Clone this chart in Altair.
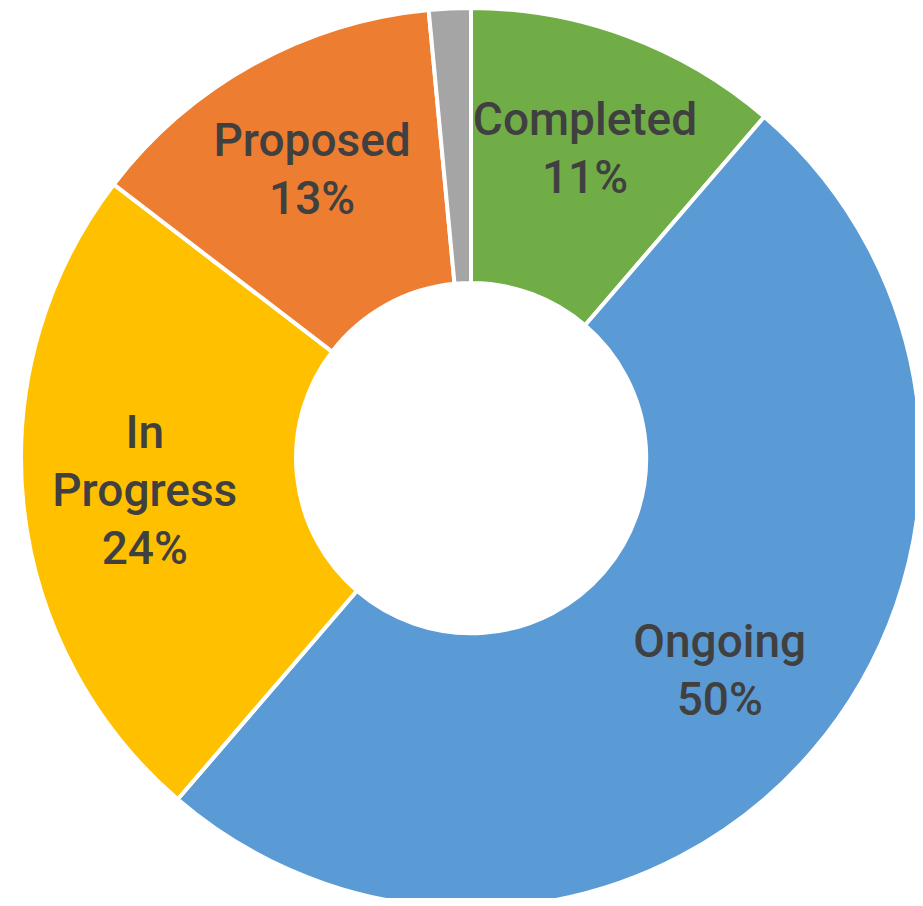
import altair as alt
import pandas as pd

categories = ["Completed", "Ongoing", "In Progress", "Proposed", "Other"]
values = [11.3, 50.0, 24.1, 13.1, 1.5]
labels = ["Completed\n11%", "Ongoing\n50%", "In\nProgress\n24%", "Proposed\n13%", ""]
colors = ["#70AD47", "#5B9BD5", "#FFC000", "#ED7D31", "#A5A5A5"]

df = pd.DataFrame({
    "category": categories,
    "value": values,
    "label": labels,
    "idx": list(range(len(categories))),
})

cx, cy = 463, 450
line_h = 58

arcs = alt.Chart(df).mark_arc(
    outerRadius=450, innerRadius=175, stroke="white", strokeWidth=4
).encode(
    theta=alt.Theta("value:Q", stack=True),
    order=alt.Order("idx:Q"),
    x=alt.value(cx),
    y=alt.value(cy),
    color=alt.Color("category:N", scale=alt.Scale(domain=categories, range=colors), legend=None),
)

text = alt.Chart(df).transform_window(
    cum="sum(value)", sort=[alt.SortField("idx")], frame=[None, 0]
).transform_calculate(
    mid="datum.cum - datum.value / 2",
    off=f"-(length(split(datum.label, '\\n')) - 1) * {line_h / 2}",
).mark_text(
    radius=328, lineBreak="\n", font="Roboto", fontSize=46, fontWeight=500,
    color="#404040", lineHeight=line_h, align="center", baseline="middle",
).encode(
    theta=alt.Theta("mid:Q", stack=None),
    x=alt.value(cx),
    y=alt.value(cy),
    yOffset=alt.YOffset("off:Q", scale=None),
    text="label:N",
)

chart = alt.layer(arcs, text).properties(
    width=907, height=890, padding=0, autosize=alt.AutoSizeParams(type="none")
).configure_view(stroke=None)

chart.save("out.html", embed_options={"renderer": "svg", "actions": False})
